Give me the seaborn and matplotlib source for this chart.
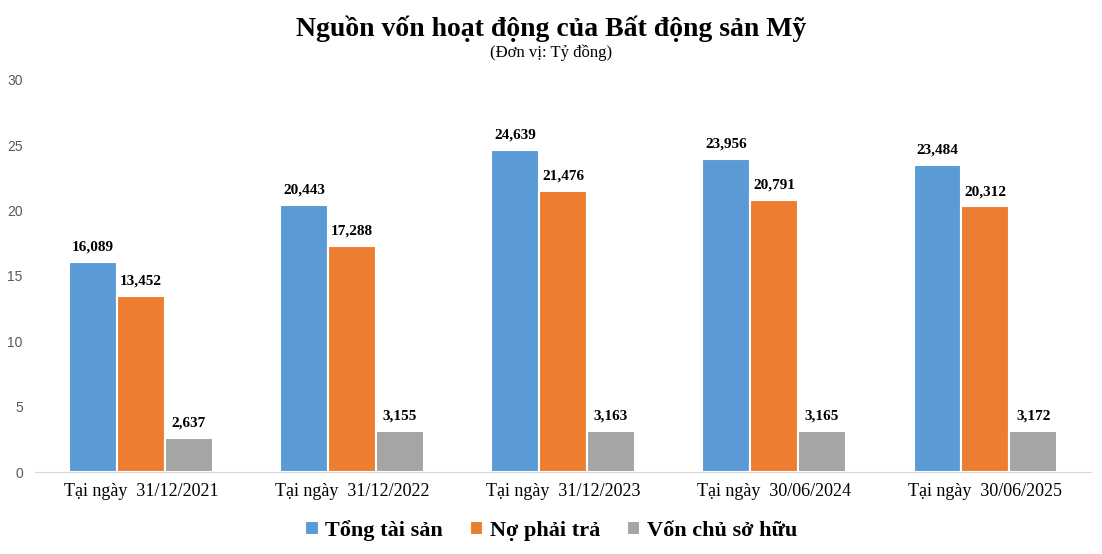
import pandas as pd
import matplotlib.pyplot as plt
import seaborn as sns

# data (ty dong -> thousands on axis)
dates = ["Tại ngày  31/12/2021", "Tại ngày  31/12/2022", "Tại ngày  31/12/2023",
         "Tại ngày  30/06/2024", "Tại ngày  30/06/2025"]
series = ["Tổng tài sản", "Nợ phải trả", "Vốn chủ sở hữu"]
tong_tai_san = [16.089, 20.443, 24.639, 23.956, 23.484]
no_phai_tra = [13.452, 17.288, 21.476, 20.791, 20.312]
von_chu_so_huu = [2.637, 3.155, 3.163, 3.165, 3.172]
colors = ["#5B9BD5", "#ED7D31", "#A5A5A5"]

df = pd.DataFrame({"date": dates * 3,
                   "series": [series[0]] * 5 + [series[1]] * 5 + [series[2]] * 5,
                   "value": tong_tai_san + no_phai_tra + von_chu_so_huu})

sns.set_style("white")
plt.rcParams['font.family'] = ['Liberation Serif', 'DejaVu Serif']
plt.rcParams['text.color'] = 'black'
plt.rcParams['xtick.color'] = 'black'

fig = plt.figure(figsize=(11.02, 5.54), dpi=100)
ax = fig.add_axes([0.032, 0.148, 0.958, 0.708])

sns.barplot(data=df, x="date", y="value", hue="series", palette=colors,
            saturation=1, width=0.68, edgecolor="white", linewidth=1.5,
            ax=ax, legend=True)

for cont in ax.containers:
    labels = [f"{v:,.3f}".replace(".", ",") for v in cont.datavalues]
    ax.bar_label(cont, labels=labels, padding=6, fontsize=11,
                 fontweight="bold", color="black")

ax.set_ylim(0, 30)
ax.set_yticks(range(0, 31, 5))
ax.set_xlim(-0.5, 4.5)
ax.set_xlabel("")
ax.set_ylabel("")
for lab in ax.get_yticklabels():
    lab.set_fontfamily("Liberation Sans")
    lab.set_color("#595959")
    lab.set_fontsize(10)
ax.tick_params(axis="y", length=0, pad=9)
ax.tick_params(axis="x", length=0, labelsize=13, pad=8, labelcolor="black")
for s in ["left", "right", "top"]:
    ax.spines[s].set_visible(False)
ax.spines["bottom"].set_color("#D9D9D9")

handles, labs = ax.get_legend_handles_labels()
ax.get_legend().remove()
fig.legend(handles, labs, loc="center", bbox_to_anchor=(0.5, 0.043), ncol=3,
           frameon=False, prop={"size": 16, "weight": "bold"},
           handlelength=0.6, handleheight=0.6, handletextpad=0.3, columnspacing=1.2)

fig.text(0.5, 0.948, "Nguồn vốn hoạt động của Bất động sản Mỹ", ha="center",
         va="center", fontsize=20, fontweight="bold")
fig.text(0.5, 0.905, "(Đơn vị: Tỷ đồng)", ha="center", va="center", fontsize=12)

fig.savefig("out.png", dpi=100)
